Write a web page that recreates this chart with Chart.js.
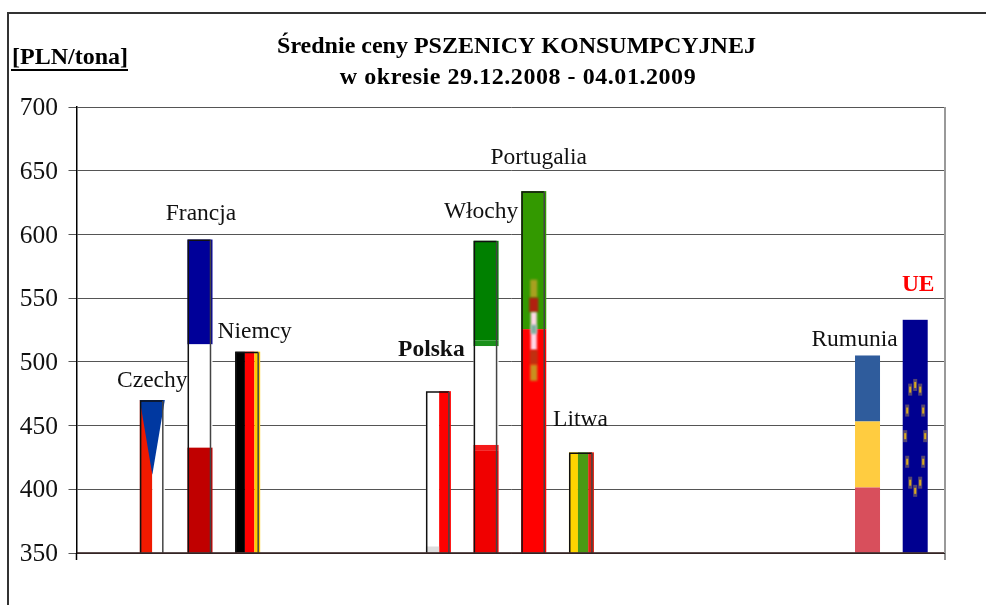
<!DOCTYPE html>
<html>
<head>
<meta charset="utf-8">
<style>
  html, body { margin: 0; padding: 0; background: #fff; overflow: hidden; }
  #frame { position: absolute; left: 7px; top: 12px; width: 979px; height: 593px; box-sizing: border-box;
           border-left: 2px solid #333; border-top: 2px solid #333; }
  canvas { position: absolute; left: 0; top: 0; }
</style>
<script src="https://cdn.jsdelivr.net/npm/chart.js@4"></script>
</head>
<body>
<div id="frame"></div>
<canvas id="chart" width="986" height="606"></canvas>
<script>
const countries = ['Czechy', 'Francja', 'Niemcy', 'Polska', 'Włochy', 'Portugalia', 'Litwa', 'Rumunia', 'UE'];
const slots = [1, 2, 3, 7, 8, 9, 10, 16, 17];
const prices = [470, 596, 508, 477, 595, 634, 429, 505, 533];
const yTicks = [350, 400, 450, 500, 550, 600, 650, 700];
const titleLines = ['Średnie ceny PSZENICY KONSUMPCYJNEJ', 'w okresie 29.12.2008 - 04.01.2009'];
const unitLabel = '[PLN/tona]';

const serif = '"Liberation Serif", "Times New Roman", serif';

// label placement relative to the bar's top centre
const labelOffsets = [[0, -19], [1, -26], [7, -20], [-7, -41], [-5, -29], [5, -33], [-1, -33], [-13, -16], [3, -35]];

function rows(c, b, bands) {
    bands.forEach(([from, to, color]) => {
        c.fillStyle = color;
        c.fillRect(b.x, b.y + from * b.h, b.w, (to - from) * b.h);
    });
}
function cols(c, b, bands) {
    bands.forEach(([from, to, color]) => {
        c.fillStyle = color;
        c.fillRect(b.x + from * b.w, b.y, (to - from) * b.w, b.h);
    });
}

const flags = {
    Czechy(c, b) {
        cols(c, b, [[0, 0.5, '#f01a00'], [0.5, 1, '#fff']]);
        c.fillStyle = '#0038a0';
        c.beginPath();
        c.moveTo(b.x, b.y);
        c.lineTo(b.x + b.w, b.y);
        c.lineTo(b.x + b.w * 0.5, b.y + b.h * 0.49);
        c.closePath();
        c.fill();
    },
    Francja(c, b) {
        rows(c, b, [[0, 0.335, '#000099'], [0.335, 0.665, '#fff'], [0.665, 1, '#c00000']]);
    },
    Niemcy(c, b) {
        cols(c, b, [[0, 0.39, '#000'], [0.39, 0.77, '#ff0000'], [0.77, 1, '#ffcc00']]);
    },
    Polska(c, b) {
        cols(c, b, [[0, 0.53, '#fff'], [0.53, 1, '#ff0000']]);
        c.fillStyle = '#ddd';
        c.fillRect(b.x, b.y + b.h - 6, b.w * 0.53, 6);
    },
    Włochy(c, b) {
        rows(c, b, [[0, 0.32, '#008000'], [0.32, 0.338, '#1a901a'], [0.338, 0.655, '#fff'],
            [0.655, 0.672, '#f51a1a'], [0.672, 1, '#f00000']]);
    },
    Portugalia(c, b) {
        rows(c, b, [[0, 0.382, '#339900'], [0.382, 1, '#ff0000']]);
        const cx = b.x + b.w / 2;
        const crest = [[0.245, 0.295, 7, '#a8a020'], [0.295, 0.335, 9, '#b02010'], [0.335, 0.44, 6, '#ffd8e8'],
            [0.37, 0.395, 6, '#80b0a0'], [0.44, 0.48, 8, '#c03010'], [0.48, 0.525, 7, '#c89020']];
        c.save();
        c.filter = 'blur(1.2px)';
        crest.forEach(([from, to, w, color]) => {
            c.fillStyle = color;
            c.fillRect(cx - w / 2, b.y + from * b.h, w, (to - from) * b.h);
        });
        c.restore();
    },
    Litwa(c, b) {
        cols(c, b, [[0, 0.36, '#ffd400'], [0.36, 0.77, '#4a9a14'], [0.77, 1, '#e02010']]);
    },
    Rumunia(c, b) {
        rows(c, b, [[0, 0.335, '#2f5c9c'], [0.335, 0.67, '#ffcc40'], [0.67, 1, '#d84f5c']]);
    },
    UE(c, b) {
        c.fillStyle = '#000090';
        c.fillRect(b.x, b.y, b.w, b.h);
        const stars = [[0, 0.28], [-5, 0.30], [5, 0.30], [-8, 0.39], [8, 0.39], [-10, 0.50], [10, 0.50],
            [-8, 0.61], [8, 0.61], [-5, 0.70], [5, 0.70], [0, 0.735]];
        c.save();
        c.filter = 'blur(0.6px)';
        stars.forEach(([dx, f]) => {
            const sx = b.x + b.w / 2 + dx, sy = b.y + f * b.h;
            c.fillStyle = 'rgba(170,140,80,0.5)';
            c.fillRect(sx - 2, sy - 6, 4, 12);
            c.fillStyle = '#d8a820';
            c.fillRect(sx - 1, sy - 3, 2, 6);
        });
        c.restore();
    }
};
const outlined = ['Czechy', 'Francja', 'Niemcy', 'Polska', 'Włochy', 'Portugalia', 'Litwa'];

const paintBars = {
    id: 'paintBars',
    afterDatasetsDraw(chart) {
        const c = chart.ctx;
        const xAxis = chart.scales.x, yAxis = chart.scales.y;
        chart.getDatasetMeta(0).data.forEach((bar, i) => {
            const p = bar.getProps(['x', 'y', 'base', 'width'], true);
            const b = { x: p.x - p.width / 2, y: p.y, w: p.width, h: p.base - p.y };
            flags[countries[i]](c, b);
            if (outlined.includes(countries[i])) {
                c.lineWidth = 1.5;
                c.strokeStyle = '#111';
                c.beginPath();
                c.moveTo(b.x + 0.8, b.y + b.h);
                c.lineTo(b.x + 0.8, b.y + 0.8);
                c.lineTo(b.x + b.w - 2, b.y + 0.8);
                c.stroke();
                c.strokeStyle = '#444';
                c.beginPath();
                c.moveTo(b.x + b.w - 2, b.y + 0.8);
                c.lineTo(b.x + b.w - 2, b.y + b.h);
                c.stroke();
            }
        });
        // baseline runs over the bars, right edge of the plot is a grey line
        c.fillStyle = 'rgba(40,20,20,0.75)';
        c.fillRect(xAxis.left, yAxis.bottom - 1, xAxis.right - xAxis.left, 2);
        c.fillStyle = '#999';
        c.fillRect(xAxis.right - 1, yAxis.top, 2, yAxis.bottom - yAxis.top);
        c.fillStyle = '#222';
        c.fillRect(xAxis.right - 0.5, yAxis.bottom, 1, 7);
        c.fillStyle = '#000';
        c.fillRect(xAxis.left - 0.75, yAxis.bottom, 1.5, 7);
    }
};

const writeText = {
    id: 'writeText',
    afterDraw(chart) {
        const c = chart.ctx;
        c.save();
        c.textBaseline = 'middle';
        c.textAlign = 'center';
        c.fillStyle = '#000';
        c.font = 'bold 24px ' + serif;
        c.fillText(titleLines[0], 516.5, 47);
        c.letterSpacing = '0.55px';
        c.fillText(titleLines[1], 518, 78);
        c.letterSpacing = '0px';
        c.textAlign = 'left';
        c.fillText(unitLabel, 12, 58);
        c.fillRect(11, 69, 117, 2);
        c.textAlign = 'center';
        chart.getDatasetMeta(0).data.forEach((bar, i) => {
            const name = countries[i];
            const bold = name === 'Polska' || name === 'UE';
            c.font = (bold ? 'bold ' : '') + '23.5px ' + serif;
            c.fillStyle = name === 'UE' ? '#ff0000' : '#111';
            c.fillText(name, bar.x + labelOffsets[i][0], bar.y + labelOffsets[i][1]);
        });
        c.restore();
    }
};

new Chart(document.getElementById('chart').getContext('2d'), {
    type: 'bar',
    data: {
        datasets: [{
            data: slots.map((s, i) => ({ x: s, y: prices[i] })),
            base: yTicks[0],
            backgroundColor: 'rgba(0,0,0,0)',
            borderWidth: 0,
            barThickness: 25
        }]
    },
    options: {
        responsive: false,
        animation: false,
        layout: { padding: { top: 107, left: 0, right: 41, bottom: 53 } },
        plugins: { legend: { display: false }, title: { display: false }, tooltip: { enabled: false } },
        scales: {
            x: {
                type: 'linear',
                min: -0.59,
                max: 17.625,
                offset: false,
                grid: { display: false },
                border: { display: false },
                ticks: { display: false },
                afterFit: s => { s.height = 0; }
            },
            y: {
                min: yTicks[0],
                max: yTicks[yTicks.length - 1],
                afterBuildTicks: s => { s.ticks = yTicks.map(v => ({ value: v })); },
                grid: { color: '#555', lineWidth: 1, tickLength: 8, tickColor: '#555' },
                border: { display: true, color: '#000', width: 1.5 },
                ticks: { color: '#111', padding: 10.5, labelOffset: 1.5, font: { family: serif, size: 25.5 } },
                afterFit: s => { s.width = 76.5; }
            }
        }
    },
    plugins: [paintBars, writeText]
});
</script>
</body>
</html>
